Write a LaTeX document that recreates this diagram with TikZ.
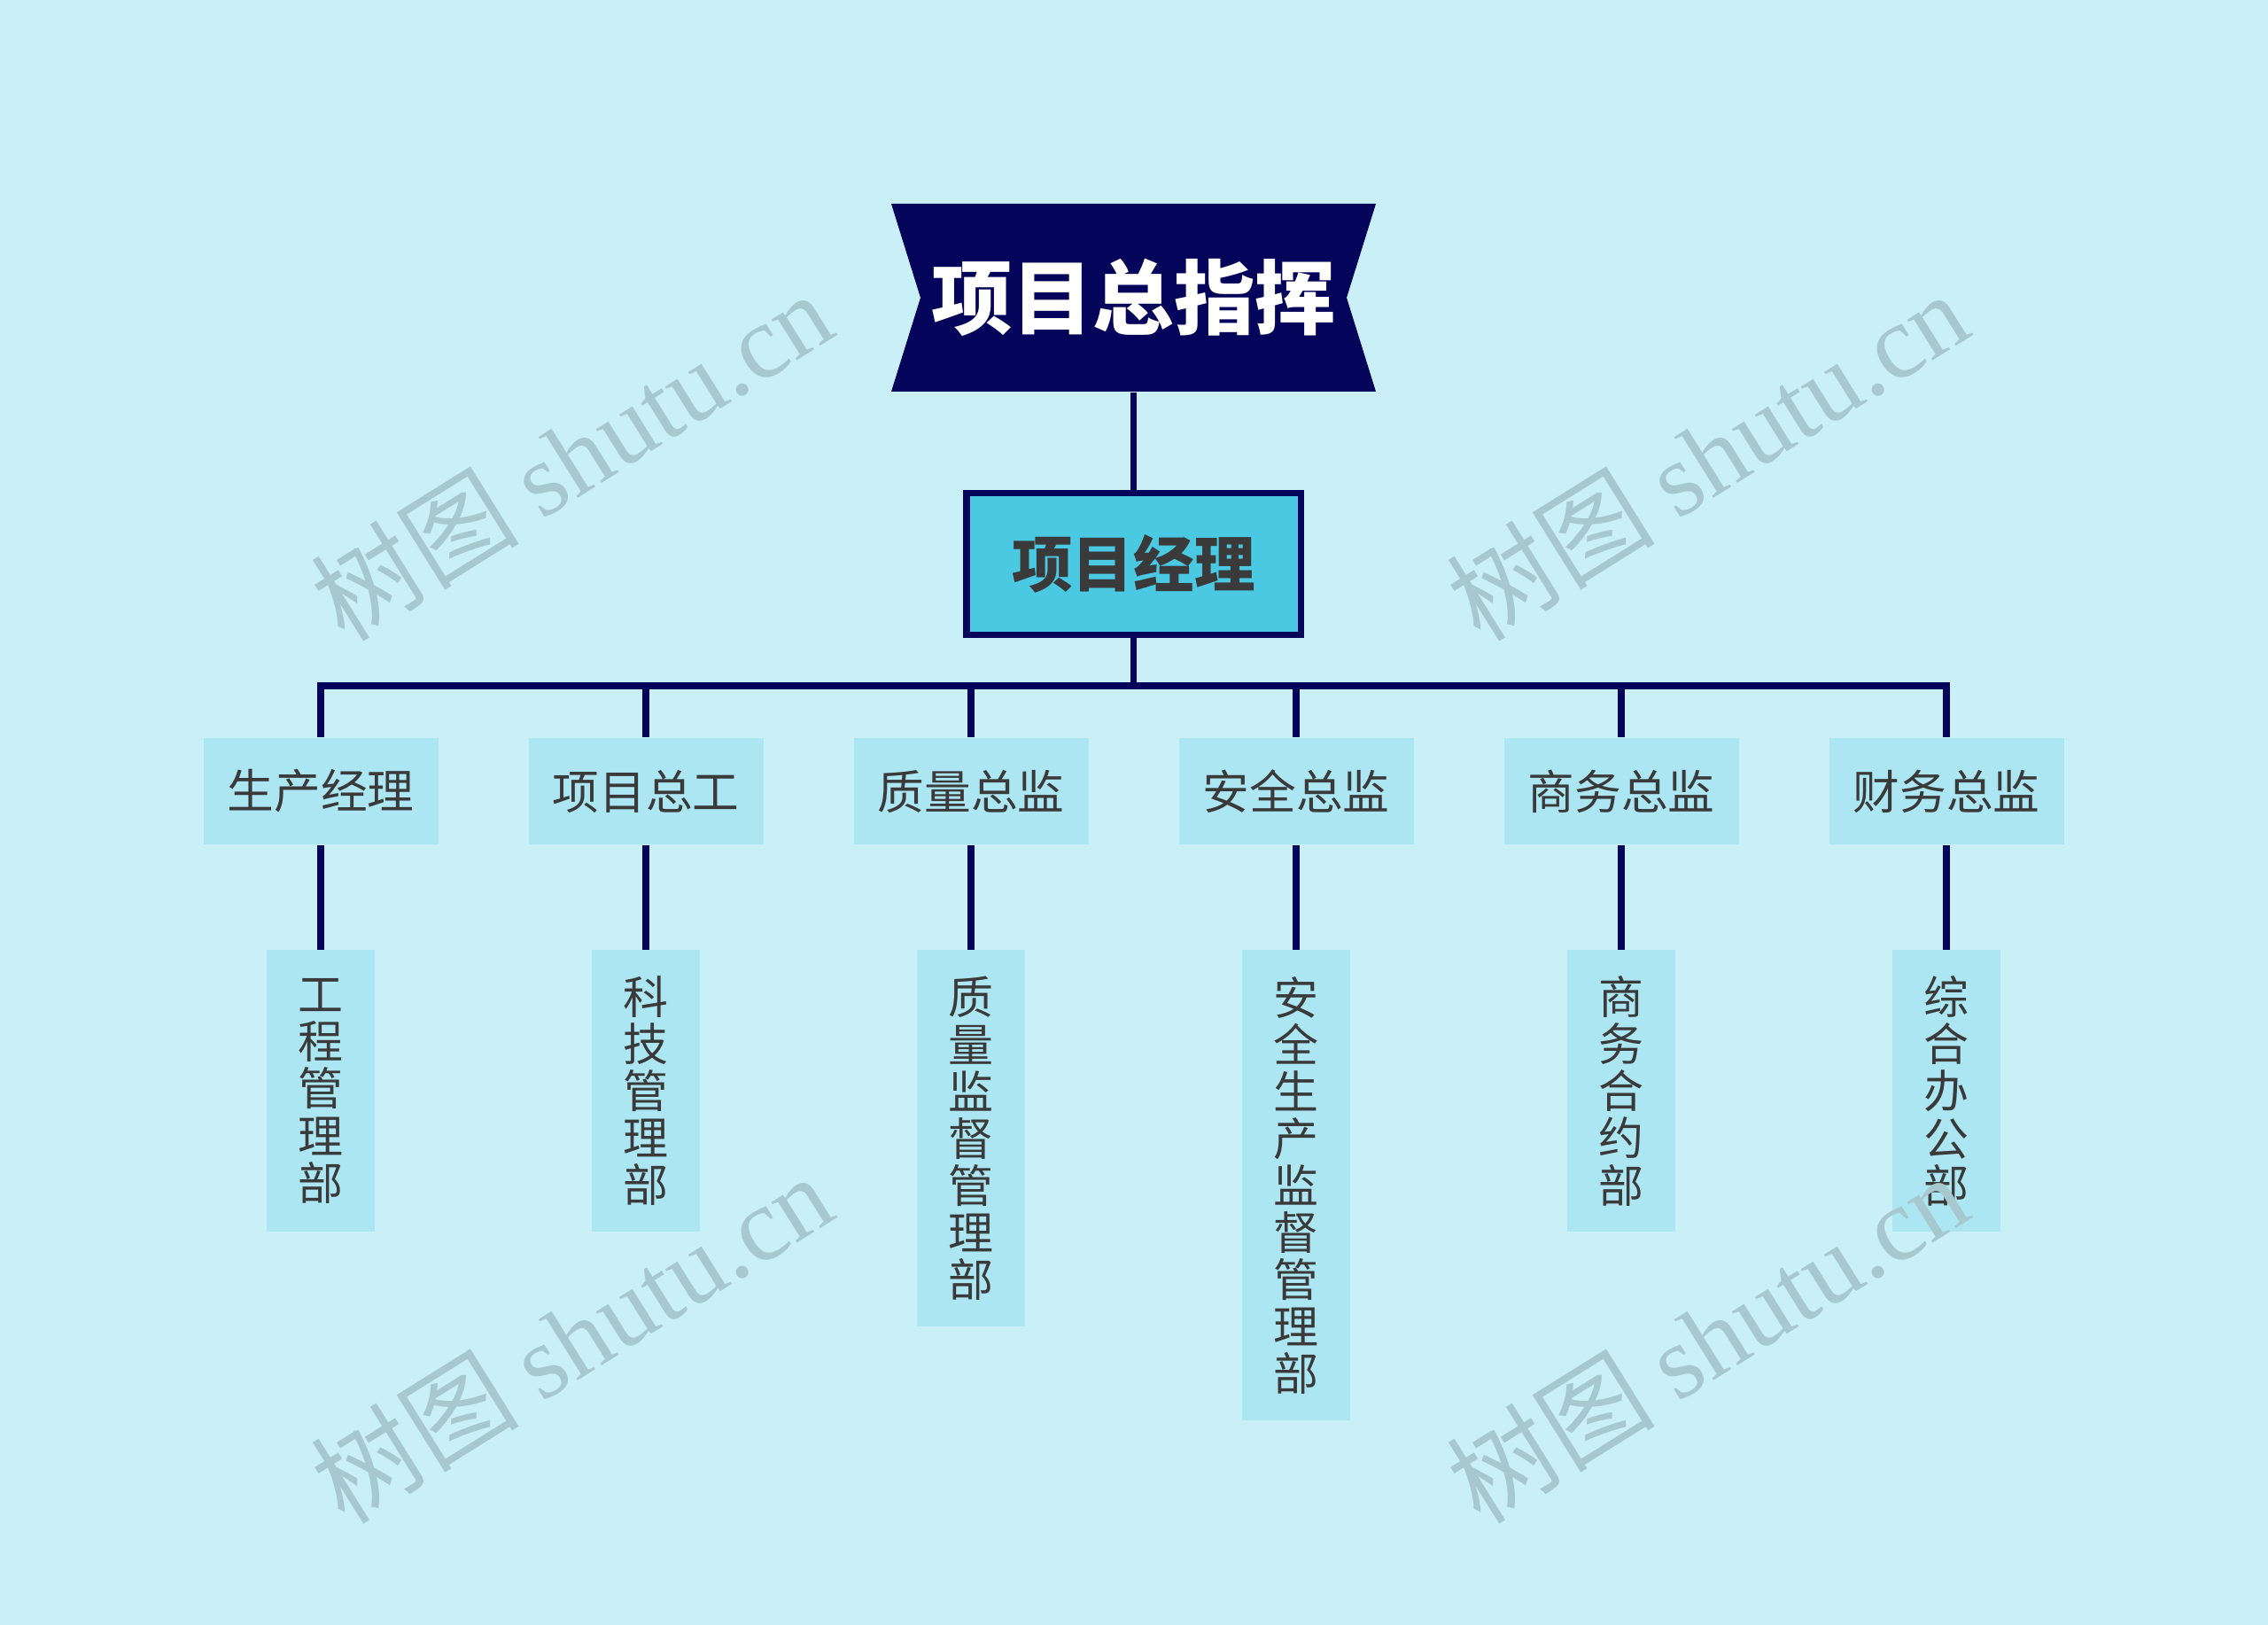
\documentclass[tikz,border=0pt]{standalone}
\usepackage{fontspec}
\setmainfont{Noto Sans CJK SC}
\newfontfamily\wmfont{Liberation Serif}
\usetikzlibrary{positioning}

\definecolor{bgcyan}{HTML}{C9F0F7}
\definecolor{navy}{HTML}{04045A}
\definecolor{mgrcyan}{HTML}{4BC9E3}
\definecolor{boxcyan}{HTML}{ADE6F3}
\definecolor{txtgray}{HTML}{3A3A3A}
\definecolor{wmgray}{HTML}{A8C8CF}

\tikzset{
  chief/.style = {minimum width=5.47cm, minimum height=2.12cm,
                  inner sep=0pt, text=white,
                  font=\fontsize{26pt}{30pt}\selectfont\bfseries,
                  path picture={
                    \fill[navy] (path picture bounding box.north west)
                      -- (path picture bounding box.north east)
                      -- ([xshift=-0.33cm]path picture bounding box.east)
                      -- (path picture bounding box.south east)
                      -- (path picture bounding box.south west)
                      -- ([xshift=0.33cm]path picture bounding box.west)
                      -- cycle;}},
  manager/.style = {draw=navy, line width=2pt, fill=mgrcyan,
                    minimum width=3.77cm, minimum height=1.60cm,
                    text=txtgray, font=\fontsize{19.5pt}{22pt}\selectfont\bfseries},
  lead/.style = {fill=boxcyan, minimum width=2.65cm, minimum height=1.20cm,
                 inner sep=0pt, text=txtgray,
                 font=\fontsize{15pt}{18pt}\selectfont},
  dept/.style = {fill=boxcyan, minimum width=1.22cm, minimum height=#1,
                 inner sep=0pt, align=center, text=txtgray,
                 font=\fontsize{14.5pt}{15.1pt}\selectfont},
  dept/.default = 3.18cm,
  link/.style = {draw=navy, line width=0.075cm},
  wmark/.style = {text=wmgray, rotate=32, inner sep=0pt,
                  font=\fontsize{33.5pt}{36pt}\selectfont}
}

\begin{document}
\begin{tikzpicture}
	\def \midx{12.795}
	\def \gap{3.67}
	\def \leady{-8.93}
	\def \drop{1.18cm}

	% Background
	\fill[bgcyan] (0,0) rectangle (25.6,-18.34);
	\useasboundingbox (0,0) rectangle (25.6,-18.34);

	% Top
	\node[chief] (chief) at (\midx,-3.36) {项目总指挥};
	\node[manager] (pm) at (\midx,-6.365) {项目经理};

	% Leads
	\node[lead] (l1) at (\midx-2.5*\gap,\leady) {生产经理};
	\node[lead] (l2) at (\midx-1.5*\gap,\leady) {项目总工};
	\node[lead] (l3) at (\midx-0.5*\gap,\leady) {质量总监};
	\node[lead] (l4) at (\midx+0.5*\gap,\leady) {安全总监};
	\node[lead] (l5) at (\midx+1.5*\gap,\leady) {商务总监};
	\node[lead] (l6) at (\midx+2.5*\gap,\leady) {财务总监};

	% Departments
	\node[dept, below=\drop of l1] (d1) {工\\程\\管\\理\\部};
	\node[dept, below=\drop of l2] (d2) {科\\技\\管\\理\\部};
	\node[dept=4.25cm, below=\drop of l3] (d3) {质\\量\\监\\督\\管\\理\\部};
	\node[dept=5.31cm, below=\drop of l4] (d4) {安\\全\\生\\产\\监\\督\\管\\理\\部};
	\node[dept, below=\drop of l5] (d5) {商\\务\\合\\约\\部};
	\node[dept, below=\drop of l6] (d6) {综\\合\\办\\公\\部};

	% Connectors
	\coordinate (bar) at (\midx,-7.74);
	\draw[link] (chief.south) -- (pm.north);
	\draw[link] (pm.south) -- (bar) -| (l1.north);
	\draw[link] (pm.south) -- (bar) -| (l2.north);
	\draw[link] (pm.south) -- (bar) -| (l3.north);
	\draw[link] (pm.south) -- (bar) -| (l4.north);
	\draw[link] (pm.south) -- (bar) -| (l5.north);
	\draw[link] (pm.south) -- (bar) -| (l6.north);
	\draw[link] (l1) -- (d1);
	\draw[link] (l2) -- (d2);
	\draw[link] (l3) -- (d3);
	\draw[link] (l4) -- (d4);
	\draw[link] (l5) -- (d5);
	\draw[link] (l6) -- (d6);

	% Watermarks
	\node[wmark] (wm1) at (6.45,-5.14) {树图 {\wmfont shutu.cn}};
	\node[wmark] (wm2) at (19.27,-5.14) {树图 {\wmfont shutu.cn}};
	\node[wmark] (wm3) at (6.45,-15.10) {树图 {\wmfont shutu.cn}};
	\node[wmark] (wm4) at (19.27,-15.10) {树图 {\wmfont shutu.cn}};

\end{tikzpicture}
\end{document}
